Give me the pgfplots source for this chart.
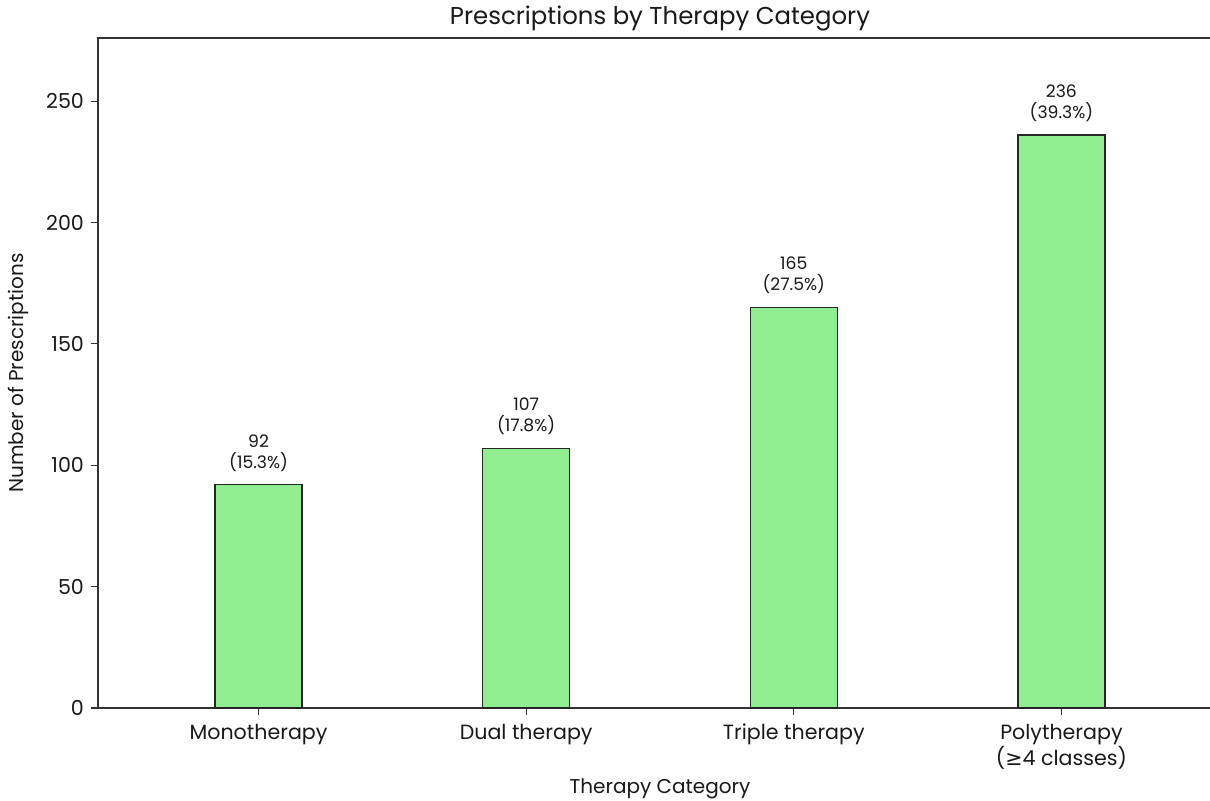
\documentclass[border=0pt]{standalone}
\usepackage{fontspec}
\setmainfont{Poppins}
\newfontfamily\dejavu{DejaVu Sans}
\usepackage{pgfplots}
\usepackage{pgfplotstable}
\pgfplotsset{compat=1.18}
\definecolor{barfill}{HTML}{90EE90}
\definecolor{axgray}{HTML}{333333}
\pgfplotstableread{
x y pct
0 92 15.3
1 107 17.8
2 165 27.5
3 236 39.3
}\datatable
\begin{document}
\begin{tikzpicture}
\begin{axis}[
  name=ax,
  scale only axis,
  width=562pt, height=335pt,
  xmin=-0.6, xmax=3.6,
  ymin=0, ymax=276,
  axis line style={axgray, line width=0.75pt},
  xtick=data,
  xticklabels={Monotherapy, Dual therapy, Triple therapy, {Polytherapy\\({\dejavu ≥}4 classes)}},
  xticklabel style={align=center, font=\fontsize{10.3}{12}\selectfont, text=black!90, anchor=north, yshift=-1pt},
  ytick={0,50,100,150,200,250},
  yticklabel style={font=\fontsize{10.3}{12}\selectfont, text=black!90},
  /pgf/number format/assume math mode=true,
  tick style={axgray, line width=0.6pt},
  major tick length=3.5pt,
  tick align=outside,
  xtick pos=bottom, ytick pos=left,
  title={Prescriptions by Therapy Category},
  title style={font=\fontsize{12.2}{14}\selectfont, text=black!90, yshift=-6pt},
  xlabel={Therapy Category},
  ylabel={Number of Prescriptions},
  label style={font=\fontsize{10}{12}\selectfont, text=black!90},
  xlabel style={yshift=2.5pt},
  ylabel style={yshift=2pt},
  clip=false,
]
\addplot[ybar, bar width=0.325, fill=barfill, draw=black!85, line width=0.7pt,
  visualization depends on={rawy \as \rawy},
  point meta=explicit symbolic,
  nodes near coords={\pgfmathprintnumber{\rawy}\\(\pgfplotspointmeta\%)},
  every node near coord/.append style={align=center, font=\fontsize{8.6}{10.5}\selectfont, text=black!90, anchor=south, yshift=3pt},
] table[x=x, y=y, meta=pct] {\datatable};
\end{axis}
\pgfresetboundingbox
\path[use as bounding box] ([xshift=-49pt,yshift=-46.35pt]ax.south west) rectangle ([xshift=556pt,yshift=19pt]ax.north west);
\end{tikzpicture}
\end{document}
